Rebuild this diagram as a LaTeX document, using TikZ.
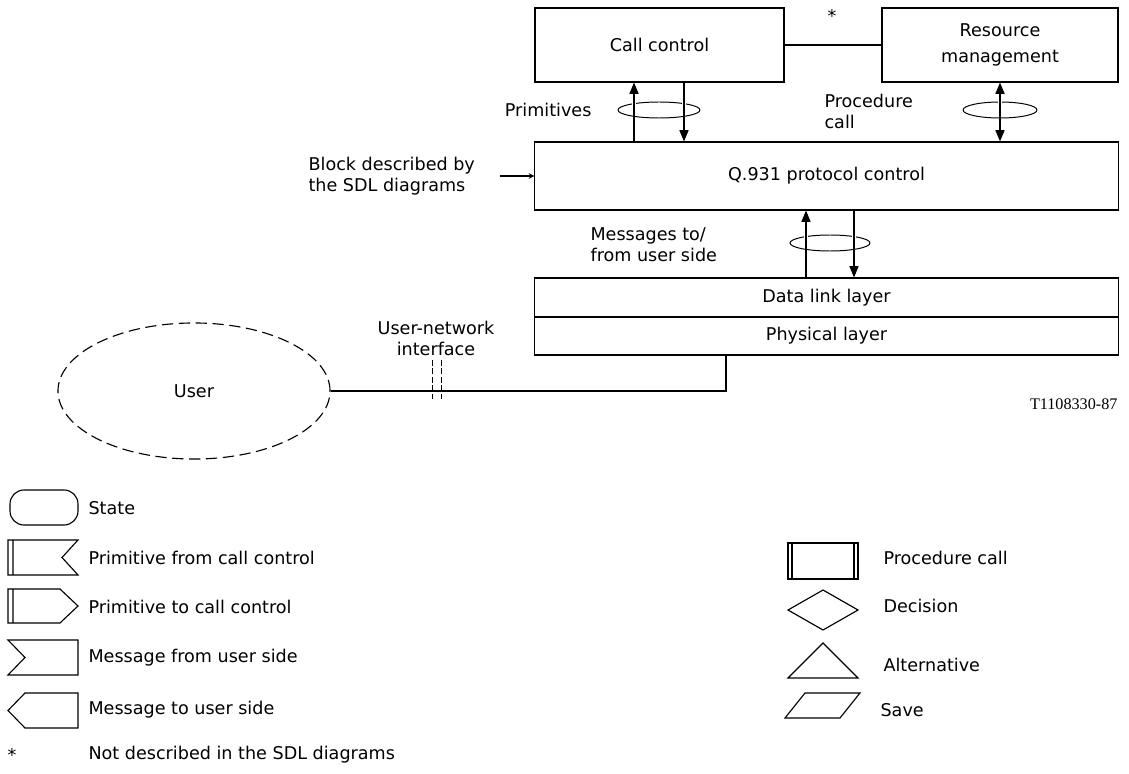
\documentclass[tikz,border=0pt]{standalone}
\usepackage{fontspec}
\setmainfont{DejaVu Sans}
\newfontfamily\figfont{Liberation Serif}
\usetikzlibrary{shapes.geometric, arrows.meta}

\begin{document}
\begin{tikzpicture}[x=0.025cm, y=-0.025cm, line width=0.8pt, font=\fontsize{12.5}{15}\selectfont,
		blk/.style={draw, rectangle, inner sep=0pt},
		lbl/.style={inner sep=0pt, align=left},
		loopline/.style={line width=0.7pt},
		arr/.style={-{Stealth[length=8pt, width=6.5pt, inset=0pt]}},
		arrboth/.style={{Stealth[length=8pt, width=6.5pt, inset=0pt]}-{Stealth[length=8pt, width=6.5pt, inset=0pt]}},
		gap/.style={preaction={draw=white, line width=3.5pt, -, shorten >=10pt, shorten <=10pt}}]
	\useasboundingbox (0,0) rectangle (1129,774);

	% blocks
	\node[blk, minimum width=6.225cm, minimum height=1.85cm] (cc) at (659.5,45) {Call control};
	\node[blk, minimum width=5.9cm, minimum height=1.85cm, align=center] (rm) at (1000,45) {Resource\\[4pt]management};
	\node[blk, minimum width=14.575cm, minimum height=1.7cm] (q931) at (826.5,176) {Q.931 protocol control};
	\node[blk, minimum width=14.575cm, minimum height=0.975cm] (dl) at (826.5,297.5) {Data link layer};
	\node[blk, minimum width=14.575cm, minimum height=0.95cm] (phys) at (826.5,336) {Physical layer};
	\node[draw, ellipse, dash pattern=on 8pt off 4pt, minimum width=6.8cm, minimum height=3.4cm] (user) at (194,391) {User};

	\draw (cc.east) -- (rm.west); \node (star) at (832,16) {*};

	% primitives
	\coordinate (pup) at (634,0); \coordinate (pdn) at (684,0);
	\draw[loopline] (700,110) arc[start angle=0, end angle=180, x radius=1.025cm, y radius=0.2cm];
	\draw[arr, gap] (pup |- q931.north) -- (pup |- cc.south);
	\draw[arr, gap] (pdn |- cc.south) -- (pdn |- q931.north);
	\draw[loopline] (618,110) arc[start angle=180, end angle=360, x radius=1.025cm, y radius=0.2cm];
	\node[lbl, anchor=east] (prim) at (592,110) {Primitives};

	% procedure call
	\draw[loopline] (1037,110) arc[start angle=0, end angle=180, x radius=0.925cm, y radius=0.2cm];
	\draw[arrboth, gap] (rm.south) -- (rm.south |- q931.north);
	\draw[loopline] (963,110) arc[start angle=180, end angle=360, x radius=0.925cm, y radius=0.2cm];
	\node[lbl, anchor=west] (proc) at (824,111) {Procedure\\call};

	% messages
	\coordinate (mup) at (806,0); \coordinate (mdn) at (854,0);
	\draw[loopline] (870,243) arc[start angle=0, end angle=180, x radius=1cm, y radius=0.2cm];
	\draw[arr, gap] (mup |- dl.north) -- (mup |- q931.south);
	\draw[arr, gap] (mdn |- q931.south) -- (mdn |- dl.north);
	\draw[loopline] (790,243) arc[start angle=180, end angle=360, x radius=1cm, y radius=0.2cm];
	\node[lbl, anchor=west] (msgs) at (590,245) {Messages to/\\from user side};

	\node[lbl, anchor=west] (blkdesc) at (308,176) {Block described by\\the SDL diagrams};
	\coordinate (bsrc) at (500,176);
	\draw[-stealth] (bsrc) -- (bsrc -| q931.west);

	% user side
	\coordinate (tap) at (726,0);
	\draw (user.east) -| (tap |- phys.south);
	\node[lbl, align=center] (uni) at (436,338) {User-network\\interface};
	\coordinate (ifa) at (432,360); \coordinate (ifb) at (441,360);
	\draw[line width=0.6pt, dash pattern=on 4pt off 2pt] (ifa) -- ++(0,42) (ifb) -- ++(0,42);
	\node[anchor=east, inner sep=0pt, font=\figfont\fontsize{11.5}{13}\selectfont] (fig) at (1118,404) {T1108330-87};

	% legend, left
	\draw[rounded corners=0.35cm] (10,490) rectangle (78,525);
	\node[lbl, anchor=west] (lstate) at (88,508) {State};
	\draw (8,540) -- (78,540) -- (62,557.5) -- (78,575) -- (8,575) -- cycle (13,540) -- (13,575);
	\node[lbl, anchor=west] (lpfrom) at (88,558) {Primitive from call control};
	\draw (8,589) -- (60,589) -- (78,606) -- (60,623) -- (8,623) -- cycle (13,589) -- (13,623);
	\node[lbl, anchor=west] (lpto) at (88,607) {Primitive to call control};
	\draw (8,640) -- (78,640) -- (78,675) -- (8,675) -- (25,657.5) -- cycle;
	\node[lbl, anchor=west] (lmfrom) at (88,658) {Message from user side};
	\draw (25,693) -- (78,693) -- (78,728) -- (25,728) -- (8,710.5) -- cycle;
	\node[lbl, anchor=west] (lmto) at (88,710) {Message to user side};
	\node[inner sep=0pt] (fstar) at (12,755) {*};
	\node[lbl, anchor=west] (fnote) at (88,755) {Not described in the SDL diagrams};

	% legend, right
	\draw (788,543) rectangle (858,579) (792,543) -- (792,579) (854,543) -- (854,579);
	\node[lbl, anchor=west] (lproc) at (883,558) {Procedure call};
	\draw (788,610) -- (823,590) -- (858,610) -- (823,630) -- cycle;
	\node[lbl, anchor=west] (ldec) at (883,606) {Decision};
	\draw (788,678) -- (823,643) -- (858,678) -- cycle;
	\node[lbl, anchor=west] (lalt) at (883,665) {Alternative};
	\draw (805,693) -- (860,693) -- (840,718) -- (785,718) -- cycle;
	\node[lbl, anchor=west] (lsave) at (880,710) {Save};
\end{tikzpicture}
\end{document}
